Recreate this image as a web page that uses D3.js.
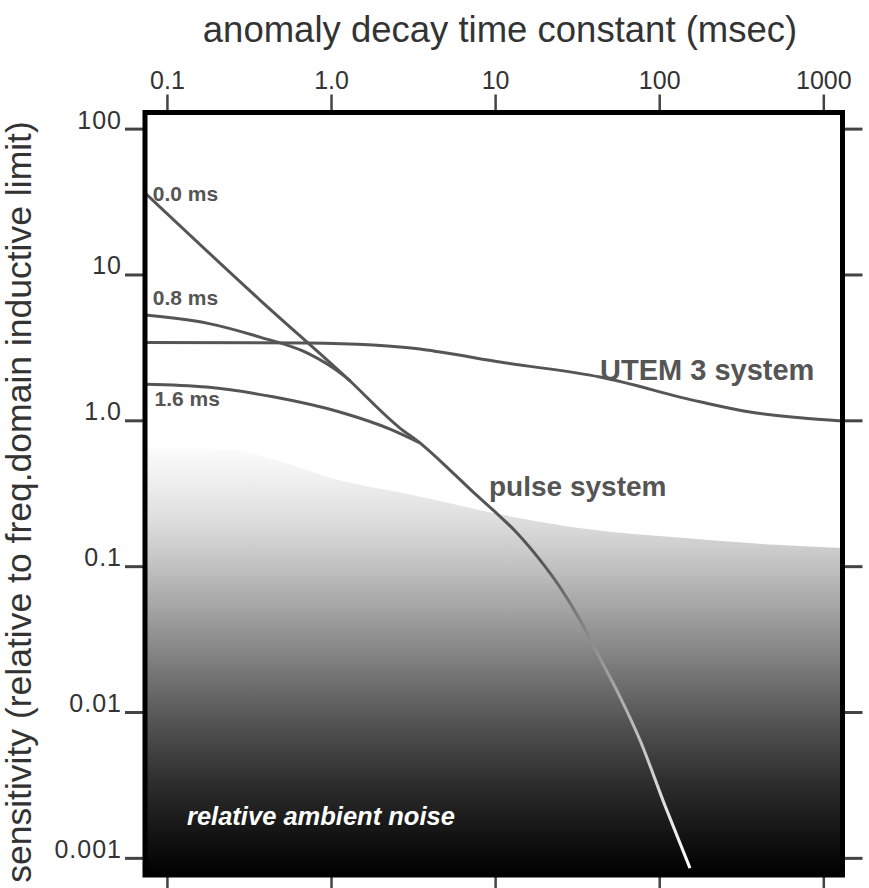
<!DOCTYPE html>
<html>
<head>
<meta charset="utf-8">
<script src="https://cdn.jsdelivr.net/npm/d3@7"></script>
<style>
  body { margin: 0; background: #fff; }
  text { font-family: "Liberation Sans", Arial, Helvetica, sans-serif; }
</style>
</head>
<body>
<div id="chart"></div>
<script>
(function() {
    /* ---------- data ---------- */
    const decayTicks = [0.1, 1, 10, 100, 1000];
    const decayTickLabels = ["0.1", "1.0", "10", "100", "1000"];
    const sensTicks = [100, 10, 1, 0.1, 0.01, 0.001];
    const sensTickLabels = ["100", "10", "1.0", "0.1", "0.01", "0.001"];

    // [time constant (ms), sensitivity]
    const pulse00 = [[0.0735, 36.2], [0.369, 6.68], [1.25, 1.95], [2.63, 0.885], [3.48, 0.70],
                     [5.31, 0.456], [7.33, 0.323], [9.70, 0.243], [13.6, 0.169], [18.8, 0.110],
                     [24.8, 0.072], [32.9, 0.0428], [43.5, 0.0234], [57.7, 0.0127],
                     [76.3, 0.00643], [108, 0.00231], [154, 0.00085]];
    const pulse08 = [[0.0735, 5.27], [0.175, 4.64], [0.369, 3.72], [0.714, 2.90], [1.18, 2.05], [1.31, 1.86]];
    const pulse16 = [[0.0735, 1.77], [0.175, 1.69], [0.443, 1.45], [1.13, 1.14], [2.29, 0.87], [3.48, 0.70]];
    const utem3 = [[0.0735, 3.42], [0.714, 3.39], [1.80, 3.28], [3.48, 3.08], [4.62, 2.94],
                   [10.7, 2.51], [43.5, 1.98], [177, 1.34], [357, 1.14], [721, 1.04], [1300, 0.99]];
    const noiseTop = [[0.0735, 0.646], [0.246, 0.626], [0.462, 0.535], [1.0, 0.403], [3.16, 0.308],
                      [11.3, 0.224], [40.6, 0.177], [144, 0.156], [515, 0.140], [1300, 0.133]];

    const delayLabels = [{ text: "0.0 ms", t: 0.082, v: 32 },
                         { text: "0.8 ms", t: 0.082, v: 6.2 },
                         { text: "1.6 ms", t: 0.084, v: 1.25 }];

    /* ---------- layout ---------- */
    const width = 869, height = 888;
    const box = { left: 145, right: 842.5, top: 112.5, bottom: 875 };

    const svg = d3.select("#chart").append("svg")
        .attr("width", width).attr("height", height);

    const x = d3.scaleLog().domain([0.0735, 1300]).range([145, 842]);
    const y = d3.scaleLog().domain([130, 0.0008]).range([112, 872]);

    const defs = svg.append("defs");

    // vertical grey ramp for the noise area
    const noiseGrad = defs.append("linearGradient")
        .attr("id", "noiseGrad").attr("gradientUnits", "userSpaceOnUse")
        .attr("x1", 0).attr("x2", 0).attr("y1", 440).attr("y2", 875);
    [[440, "#ffffff"], [470, "#f3f3f3"], [520, "#dedede"], [565, "#c2c2c2"], [620, "#9c9c9c"],
     [670, "#787878"], [720, "#555555"], [780, "#2f2f2f"], [840, "#111111"], [875, "#000000"]]
        .forEach(s => noiseGrad.append("stop")
            .attr("offset", (s[0] - 440) / 435).attr("stop-color", s[1]));

    // pulse curve fades to white as it drops into the noise
    const lineGrad = defs.append("linearGradient")
        .attr("id", "lineGrad").attr("gradientUnits", "userSpaceOnUse")
        .attr("x1", 0).attr("x2", 0).attr("y1", 112).attr("y2", 875);
    [[112, "#555555"], [560, "#555555"], [640, "#8c8c8c"], [720, "#b8b8b8"], [800, "#dddddd"], [870, "#ffffff"]]
        .forEach(s => lineGrad.append("stop")
            .attr("offset", (s[0] - 112) / 763).attr("stop-color", s[1]));

    svg.append("clipPath").attr("id", "plotClip")
        .append("rect").attr("x", box.left).attr("y", box.top)
        .attr("width", box.right - box.left).attr("height", box.bottom - box.top);

    const plot = svg.append("g").attr("clip-path", "url(#plotClip)");

    /* ---------- noise area ---------- */
    const area = d3.area()
        .x(d => x(d[0]))
        .y0(y(0.0005))
        .y1(d => y(d[1]))
        .curve(d3.curveMonotoneX);

    plot.append("path")
        .datum(noiseTop)
        .attr("d", area)
        .attr("fill", "url(#noiseGrad)");

    /* ---------- curves ---------- */
    const line = d3.line()
        .x(d => x(d[0]))
        .y(d => y(d[1]))
        .curve(d3.curveMonotoneX);

    [utem3, pulse08, pulse16].forEach(series => {
        plot.append("path")
            .datum(series)
            .attr("d", line)
            .attr("fill", "none")
            .attr("stroke", "#555")
            .attr("stroke-width", 3);
    });

    plot.append("path")
        .datum(pulse00)
        .attr("d", line)
        .attr("fill", "none")
        .attr("stroke", "url(#lineGrad)")
        .attr("stroke-width", 3);

    /* ---------- labels inside the plot ---------- */
    svg.selectAll(".delay")
        .data(delayLabels)
        .join("text")
        .attr("class", "delay")
        .attr("x", d => x(d.t))
        .attr("y", d => y(d.v))
        .attr("font-size", 21)
        .attr("font-weight", "bold")
        .attr("fill", "#555")
        .text(d => d.text);

    svg.append("text")
        .attr("x", 600).attr("y", 380)
        .attr("font-size", 29).attr("font-weight", "bold").attr("fill", "#555")
        .text("UTEM 3 system");

    svg.append("text")
        .attr("x", 489).attr("y", 496)
        .attr("font-size", 28).attr("font-weight", "bold").attr("fill", "#555")
        .text("pulse system");

    svg.append("text")
        .attr("x", 187).attr("y", 825)
        .attr("font-size", 25.5).attr("font-weight", "bold").attr("font-style", "italic")
        .attr("fill", "#fff")
        .text("relative ambient noise");

    /* ---------- axes ---------- */
    function styleAxis(g) {
        g.select(".domain").remove();
        g.selectAll(".tick line").attr("stroke", "#444").attr("stroke-width", 3);
        g.selectAll(".tick text").attr("fill", "#333").attr("font-size", 25);
    }

    svg.append("g")
        .attr("transform", `translate(0,${box.top})`)
        .call(d3.axisTop(x).tickValues(decayTicks).tickSize(18).tickPadding(6)
            .tickFormat((d, i) => decayTickLabels[i]))
        .call(styleAxis)
        .call(g => g.selectAll(".tick line").attr("stroke-width", 2.5));

    svg.append("g")
        .attr("transform", `translate(0,${box.bottom})`)
        .call(d3.axisBottom(x).tickValues(decayTicks).tickSize(13).tickFormat(""))
        .call(styleAxis)
        .call(g => g.selectAll(".tick line").attr("stroke-width", 2.5));

    svg.append("g")
        .attr("transform", `translate(${box.left},0)`)
        .call(d3.axisLeft(y).tickValues(sensTicks).tickSize(20).tickPadding(3)
            .tickFormat((d, i) => sensTickLabels[i]))
        .call(styleAxis)
        .call(g => g.selectAll(".tick text").attr("dy", "-0.02em").attr("letter-spacing", 1));

    svg.append("g")
        .attr("transform", `translate(${box.right},0)`)
        .call(d3.axisRight(y).tickValues(sensTicks).tickSize(20).tickFormat(""))
        .call(styleAxis);

    /* ---------- frame ---------- */
    svg.append("rect")
        .attr("x", box.left).attr("y", box.top)
        .attr("width", box.right - box.left).attr("height", box.bottom - box.top)
        .attr("fill", "none").attr("stroke", "#000").attr("stroke-width", 5);

    /* ---------- titles ---------- */
    svg.append("text")
        .attr("x", 500).attr("y", 42)
        .attr("text-anchor", "middle")
        .attr("font-size", 36.5).attr("fill", "#333")
        .text("anomaly decay time constant (msec)");

    svg.append("text")
        .attr("transform", "translate(31,502) rotate(-90)")
        .attr("text-anchor", "middle")
        .attr("font-size", 35.5).attr("fill", "#333")
        .text("sensitivity (relative to freq.domain inductive limit)");
})();
</script>
</body>
</html>
